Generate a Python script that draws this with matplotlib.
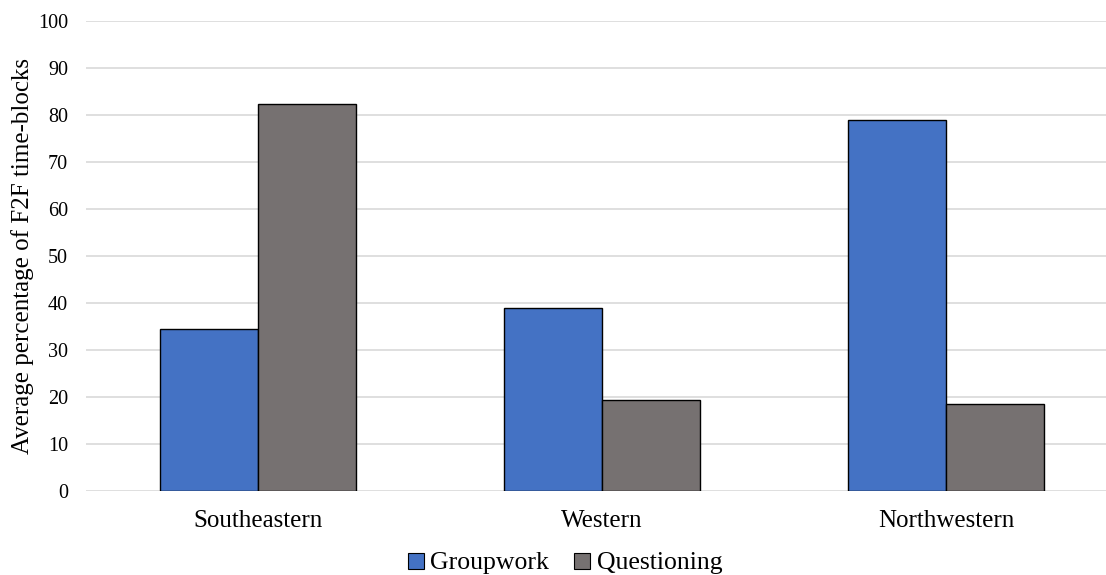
import numpy as np
import matplotlib
matplotlib.use("Agg")
import matplotlib.pyplot as plt
from matplotlib.lines import Line2D

regions = ["Southeastern", "Western", "Northwestern"]
groupwork = [34.4, 39.0, 78.9]
questioning = [82.3, 19.4, 18.4]

plt.rcParams["font.family"] = ["Liberation Serif", "DejaVu Serif"]

fig = plt.figure(figsize=(11.06, 5.75), dpi=100)
ax = fig.add_axes([86 / 1106, 84.3 / 575, 1020 / 1106, 469.7 / 575])

x = np.arange(len(regions))
w = 0.286
ax.bar(x - w / 2, groupwork, w, color="#4472C4", edgecolor="black", linewidth=1, zorder=3)
ax.bar(x + w / 2, questioning, w, color="#767171", edgecolor="black", linewidth=1, zorder=3)

ax.set_xlim(-0.5, 2.465)
ax.set_ylim(0, 100)
ax.set_yticks(range(0, 101, 10))
ax.yaxis.grid(True, color="#D9D9D9", linewidth=1.2, zorder=0)
for s in ax.spines.values():
    s.set_visible(False)
ax.tick_params(length=0)
ax.tick_params(axis="y", pad=13, labelsize=14.5)
ax.tick_params(axis="x", pad=14, labelsize=18)
ax.set_xticks(x)
ax.set_xticklabels(regions)
ax.set_ylabel("Average percentage of F2F time-blocks", fontsize=18, labelpad=3)

handles = [
    Line2D([], [], marker="s", linestyle="none", markersize=11.5,
           markerfacecolor="#4472C4", markeredgecolor="black", markeredgewidth=0.8),
    Line2D([], [], marker="s", linestyle="none", markersize=11.5,
           markerfacecolor="#767171", markeredgecolor="black", markeredgewidth=0.8),
]
fig.legend(handles, ["Groupwork", "Questioning"], loc="center",
           bbox_to_anchor=(564 / 1106, 1 - 563 / 575),
           ncol=2, frameon=False, fontsize=18.5, handletextpad=0.15, columnspacing=0.9,
           handlelength=0.8)

fig.savefig("out.png", dpi=100)
